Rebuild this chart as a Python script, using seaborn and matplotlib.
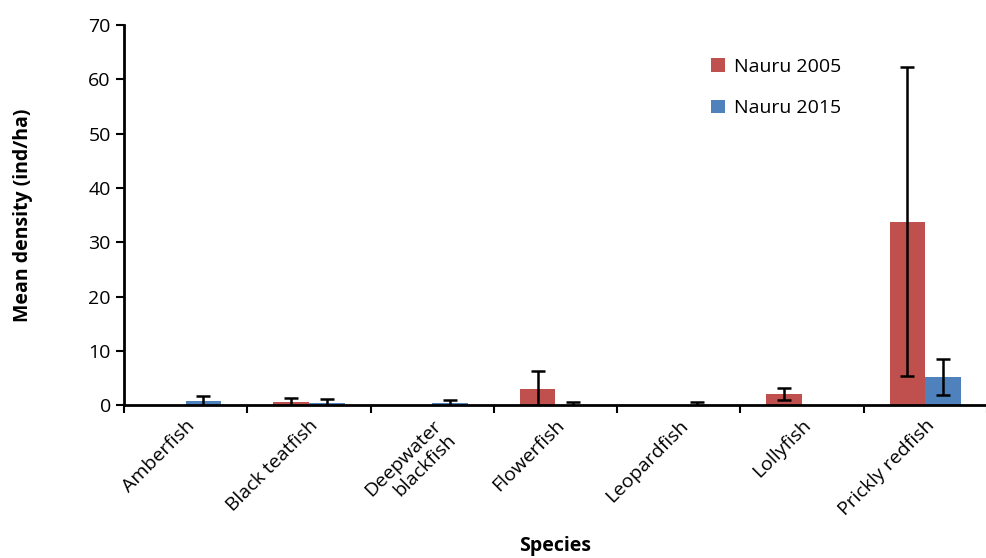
import numpy as np
import pandas as pd
import seaborn as sns
import matplotlib
matplotlib.use('Agg')
import matplotlib.pyplot as plt

# data
species = ['Amberfish', 'Black teatfish', 'Deepwater\nblackfish', 'Flowerfish',
           'Leopardfish', 'Lollyfish', 'Prickly redfish']
years = ['Nauru 2005', 'Nauru 2015']
mean_2005 = [0.0, 0.5, 0.0, 3.0, 0.0, 2.0, 33.8]
err_2005 = [0.0, 0.9, 0.0, 3.3, 0.0, 1.1, 28.4]
mean_2015 = [0.75, 0.3, 0.3, 0.1, 0.1, 0.0, 5.2]
err_2015 = [1.0, 0.8, 0.6, 0.4, 0.4, 0.0, 3.3]
colors = ['#C0504D', '#4F81BD']

sns.set_style('white')
plt.rcParams['font.family'] = ['Open Sans', 'DejaVu Sans']
plt.rcParams['text.color'] = 'black'
plt.rcParams['axes.labelcolor'] = 'black'
plt.rcParams['xtick.color'] = 'black'
plt.rcParams['ytick.color'] = 'black'

df = pd.DataFrame({
    'Species': species * 2,
    'Year': [years[0]] * len(species) + [years[1]] * len(species),
    'Mean': mean_2005 + mean_2015,
})

fig = plt.figure(figsize=(9.87, 5.58), dpi=100)
ax = fig.add_axes([0.1256, 0.274, 0.8744, 0.681])

sns.barplot(data=df, x='Species', y='Mean', hue='Year', palette=colors,
            width=0.58, errorbar=None, ax=ax, saturation=1, linewidth=0)

# error bars on each bar
for cont, errs in zip(ax.containers, [err_2005, err_2015]):
    for bar, e in zip(cont, errs):
        if e <= 0:
            continue
        xc = bar.get_x() + bar.get_width() / 2
        ax.errorbar(xc, bar.get_height(), yerr=e, fmt='none', ecolor='black',
                    elinewidth=1.8, capsize=5, capthick=1.8, zorder=5)

ax.set_ylim(0, 70)
ax.set_xlim(-0.5, len(species) - 0.5)
ax.set_yticks(range(0, 71, 10))
ax.tick_params(axis='y', direction='out', length=6, width=1.5, labelsize=14, left=True)
ax.set_xticks(range(len(species)))
ax.set_xticklabels(species, rotation=45, ha='right', rotation_mode='anchor', fontsize=14)
ax.tick_params(axis='x', which='major', length=0, pad=8)
ax.set_xticks(np.arange(-0.5, len(species), 1.0), minor=True)
ax.tick_params(axis='x', which='minor', direction='out', length=6, width=1.5, bottom=True)

for s in ['top', 'right']:
    ax.spines[s].set_visible(False)
for s in ['left', 'bottom']:
    ax.spines[s].set_linewidth(2)
    ax.spines[s].set_color('black')

ax.set_xlabel('Species', fontsize=14, fontweight='bold', labelpad=12)
ax.set_ylabel('Mean density (ind/ha)', fontsize=14, fontweight='bold', labelpad=40)

ax.legend(loc='upper left', bbox_to_anchor=(0.66, 0.96), frameon=False, fontsize=14,
          handlelength=0.7, handleheight=0.7, labelspacing=1.2, handletextpad=0.5)

plt.savefig('out.png', dpi=100)
plt.close('all')
